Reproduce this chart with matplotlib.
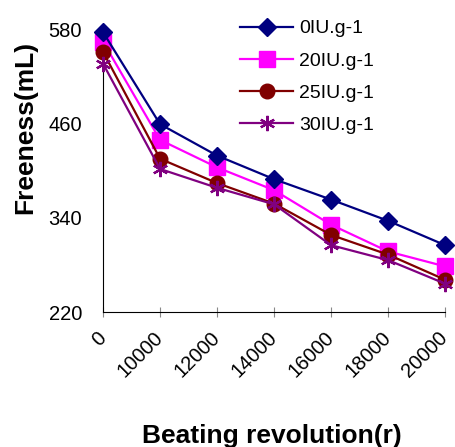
import matplotlib
matplotlib.use('Agg')
import matplotlib.pyplot as plt
from matplotlib.transforms import ScaledTranslation

plt.rcParams['font.family'] = ['Liberation Sans', 'DejaVu Sans']

# data
revolutions = ['0', '10000', '12000', '14000', '16000', '18000', '20000']
freeness_0 = [576, 459, 419, 389, 363, 336, 305]
freeness_20 = [564, 439, 404, 375, 331, 297, 278]
freeness_25 = [551, 415, 384, 358, 318, 293, 261]
freeness_30 = [536, 402, 378, 357, 305, 286, 256]
series_labels = ['0IU.g-1', '20IU.g-1', '25IU.g-1', '30IU.g-1']

fig = plt.figure(figsize=(4.55, 4.47), dpi=100)
ax = fig.add_axes([0.2264, 0.302, 0.752, 0.633])

x = range(len(revolutions))
ax.plot(x, freeness_0, color='#000080', marker='D', markersize=9, lw=1.6, label=series_labels[0], clip_on=False, zorder=4)
ax.plot(x, freeness_20, color='#FF00FF', marker='s', markersize=11, lw=1.6, label=series_labels[1], clip_on=False, zorder=3)
ax.plot(x, freeness_25, color='#800000', marker='o', markersize=10.5, lw=1.6, label=series_labels[2], clip_on=False, zorder=3)
ax.plot(x, freeness_30, color='#800080', marker=(6, 2, 0), markersize=11, mew=1.6, lw=1.6, label=series_labels[3], clip_on=False, zorder=3)

ax.set_xlim(0, 6)
ax.set_ylim(220, 580)
ax.set_yticks([220, 340, 460, 580])
ax.set_xticks(list(x))
ax.set_xticklabels(revolutions, rotation=45, ha='right', va='top', rotation_mode='anchor')
ax.tick_params(axis='y', length=0, labelsize=14.5, pad=15)
ax.tick_params(axis='x', direction='inout', length=7.5, color='#888888', labelsize=14.5, pad=8)

# shift the rotated labels a little left, like the original
for lab in ax.get_xticklabels():
    lab.set_transform(lab.get_transform() + ScaledTranslation(-0.07, 0, fig.dpi_scale_trans))

ax.spines['top'].set_visible(False)
ax.spines['right'].set_visible(False)

ax.set_ylabel('Freeness(mL)', fontsize=19, fontweight='bold')
ax.yaxis.set_label_coords(-0.193, 0.654)
ax.set_xlabel('Beating revolution(r)', fontsize=19, fontweight='bold')
ax.xaxis.set_label_coords(0.494, -0.395)

ax.legend(loc='upper left', bbox_to_anchor=(0.379, 1.06), frameon=False, fontsize=14,
          handlelength=2.7, labelspacing=0.75, handletextpad=0.3, borderaxespad=0)

plt.savefig('out.png', dpi=100)
